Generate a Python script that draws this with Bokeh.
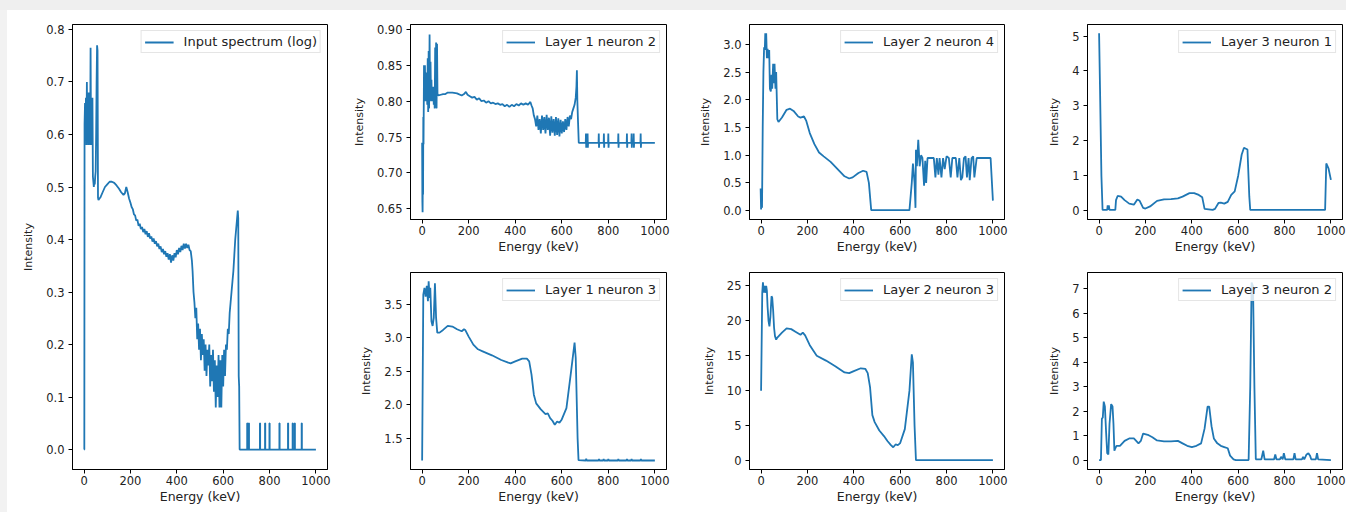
from bokeh.plotting import figure
from bokeh.models import FixedTicker, PrintfTickFormatter, Range1d, Spacer
from bokeh.layouts import row, column
from bokeh.embed import file_html
from bokeh.resources import INLINE

# ---------------- data ----------------
energy_ticks = [0, 200, 400, 600, 800, 1000]

# Input spectrum (log)
in_e = [0, 1, 2, 4, 6, 8, 10, 12, 14, 16, 18, 20, 22, 24, 26, 28, 30, 32, 34, 36, 38, 40,
        42, 44, 46, 48, 50, 52, 54, 56, 58, 60, 62, 66, 70, 80, 90, 100, 110, 120, 130, 140,
        150, 160, 170, 176, 182, 188, 194,
        200, 205, 210, 215, 220, 225, 230, 235, 240, 245, 250, 255, 260, 265, 270, 275, 280,
        285, 290, 295, 300, 305, 310, 315, 320, 325, 330, 335, 340, 345, 350, 355, 360, 365,
        370, 375, 380, 385, 390, 395, 400, 405, 410, 415, 420, 425, 430, 435, 440, 445, 450,
        455, 460, 465,
        468, 472, 476, 480, 484, 488, 492, 496, 500, 504, 508, 512, 516, 520, 524, 528, 532,
        536, 540, 544, 548, 552, 556, 560, 564, 568, 572, 576, 580, 584, 588, 592, 596, 600,
        604, 608, 612, 616, 620, 624, 628, 632, 636, 640, 644, 648, 652, 656, 660, 663, 665,
        667, 669, 671,
        703.5, 703.5, 704.5, 704.5, 710.5, 710.5, 711.5, 711.5, 758.5, 758.5, 759.5, 759.5,
        780.5, 780.5, 781.5, 781.5, 799.5, 799.5, 800.5, 800.5, 842.5, 842.5, 843.5, 843.5,
        879.5, 879.5, 880.5, 880.5, 899.5, 899.5, 900.5, 900.5, 908.5, 908.5, 909.5, 909.5,
        938.5, 938.5, 939.5, 939.5, 1000]
in_v = [0.0, 0.0, 0.62, 0.66, 0.60, 0.67, 0.58, 0.70, 0.59, 0.66, 0.58, 0.68, 0.60, 0.62, 0.58,
        0.765, 0.58, 0.67, 0.60, 0.67, 0.52, 0.51, 0.50, 0.51, 0.505, 0.52, 0.53, 0.60, 0.70,
        0.77, 0.76, 0.48, 0.475, 0.478, 0.48, 0.49, 0.50, 0.505, 0.51, 0.51, 0.508, 0.503,
        0.497, 0.49, 0.485, 0.488, 0.50, 0.49, 0.478,
        0.47, 0.462, 0.458, 0.448, 0.446, 0.436, 0.438, 0.426, 0.43, 0.42, 0.424, 0.414, 0.42,
        0.41, 0.416, 0.405, 0.412, 0.402, 0.406, 0.396, 0.402, 0.392, 0.397, 0.387, 0.392,
        0.382, 0.387, 0.376, 0.382, 0.372, 0.378, 0.367, 0.374, 0.362, 0.372, 0.356, 0.37,
        0.36, 0.374, 0.366, 0.38, 0.372, 0.384, 0.376, 0.388, 0.38, 0.392, 0.383, 0.392,
        0.384, 0.39, 0.38, 0.378, 0.36,
        0.34, 0.30, 0.28, 0.25, 0.27, 0.21, 0.24, 0.19, 0.23, 0.17, 0.22, 0.18, 0.21, 0.15,
        0.20, 0.14, 0.19, 0.16, 0.20, 0.12, 0.18, 0.13, 0.19, 0.11, 0.17, 0.08, 0.16, 0.10,
        0.18, 0.08, 0.17, 0.08, 0.18, 0.12, 0.19, 0.14, 0.20, 0.19, 0.23, 0.22, 0.26, 0.28,
        0.30, 0.32, 0.34, 0.37, 0.40, 0.42, 0.44, 0.455, 0.44, 0.14, 0.12, 0.0,
        0.0, 0.05, 0.05, 0.0, 0.0, 0.05, 0.05, 0.0, 0.0, 0.05, 0.05, 0.0,
        0.0, 0.05, 0.05, 0.0, 0.0, 0.05, 0.05, 0.0, 0.0, 0.05, 0.05, 0.0,
        0.0, 0.05, 0.05, 0.0, 0.0, 0.05, 0.05, 0.0, 0.0, 0.05, 0.05, 0.0,
        0.0, 0.05, 0.05, 0.0, 0.0]

# Layer 1 neuron 2
l1n2_e = [0, 1, 2, 3, 4, 5, 6, 8, 10, 12, 14, 16, 18, 20, 22, 24, 26, 28, 30, 32, 34, 36, 38,
          40, 42, 44, 46, 48, 50, 52, 54, 56, 58, 60, 62, 64, 66, 70, 80, 90, 100, 110, 130,
          150, 170, 180, 188, 195, 205, 215, 225, 235, 245, 255, 265, 275, 285, 295, 305, 315,
          325, 335, 345, 355, 365, 375, 385, 395, 405, 415, 425, 435, 445, 455, 465, 470, 475,
          480, 485, 490, 495, 500, 505, 510, 515, 520, 525, 530, 535, 540, 545, 550, 555, 560,
          565, 570, 575, 580, 585, 590, 595, 600, 605, 610, 615, 620, 625, 630, 635, 640, 645,
          650, 655, 660, 663, 665, 667, 670, 673,
          703, 704, 705, 706, 710, 711, 712, 713, 758, 759, 760, 761, 780, 781, 782, 783,
          799, 800, 801, 802, 842, 843, 844, 845, 879, 880, 881, 882, 899, 900, 901, 902,
          908, 909, 910, 911, 938, 939, 940, 941, 1000]
l1n2_v = [0.742, 0.66, 0.645, 0.70, 0.67, 0.778, 0.74, 0.85, 0.80, 0.85, 0.81, 0.84, 0.80,
          0.83, 0.795, 0.86, 0.785, 0.87, 0.79, 0.893, 0.80, 0.855, 0.81, 0.83, 0.80, 0.81,
          0.80, 0.82, 0.795, 0.81, 0.79, 0.875, 0.80, 0.882, 0.79, 0.88, 0.81, 0.808, 0.809,
          0.81, 0.81, 0.812, 0.812, 0.811, 0.808, 0.81, 0.813, 0.809, 0.807, 0.805, 0.806,
          0.802, 0.804, 0.80, 0.801, 0.798, 0.80, 0.797, 0.798, 0.796, 0.797, 0.795, 0.796,
          0.793, 0.795, 0.792, 0.795, 0.793, 0.796, 0.794, 0.797, 0.795, 0.797, 0.795, 0.799,
          0.794, 0.79, 0.78, 0.775, 0.765, 0.78, 0.76, 0.775, 0.755, 0.78, 0.76, 0.778, 0.755,
          0.781, 0.76, 0.777, 0.752, 0.779, 0.756, 0.775, 0.752, 0.778, 0.753, 0.776, 0.751,
          0.774, 0.755, 0.772, 0.757, 0.775, 0.76, 0.778, 0.765, 0.78, 0.775, 0.785, 0.79,
          0.795, 0.805, 0.82, 0.843, 0.80, 0.77, 0.742,
          0.742, 0.755, 0.735, 0.742, 0.742, 0.755, 0.735, 0.742, 0.742, 0.755, 0.735, 0.742,
          0.742, 0.755, 0.735, 0.742, 0.742, 0.755, 0.735, 0.742, 0.742, 0.755, 0.735, 0.742,
          0.742, 0.755, 0.735, 0.742, 0.742, 0.755, 0.735, 0.742, 0.742, 0.755, 0.735, 0.742,
          0.742, 0.755, 0.735, 0.742, 0.742]

# Layer 1 neuron 3
l1n3_e = [0, 5, 10, 15, 20, 25, 28, 32, 35, 40, 45, 50, 55, 60, 65, 75, 90, 110, 130, 150,
          170, 180, 185, 200, 220, 240, 260, 300, 340, 370, 380, 400, 430, 450, 460, 470, 480,
          490, 510, 530, 540, 550, 560, 570, 580, 590, 600, 620, 640, 655, 660, 668, 672,
          703, 705, 707, 758, 760, 762, 778, 780, 782, 798, 800, 802, 841, 843, 845, 878, 880,
          882, 898, 900, 902, 938, 940, 942, 1000]
l1n3_v = [1.165, 3.65, 3.75, 3.62, 3.78, 3.55, 3.85, 3.60, 3.75, 3.25, 3.18, 3.30, 3.82, 3.30,
          3.08, 3.08, 3.12, 3.18, 3.17, 3.13, 3.10, 3.13, 3.12, 3.02, 2.90, 2.83, 2.80, 2.74,
          2.67, 2.63, 2.62, 2.65, 2.69, 2.69, 2.65, 2.45, 2.15, 2.02, 1.93, 1.86, 1.87, 1.80,
          1.76, 1.70, 1.75, 1.73, 1.78, 1.95, 2.50, 2.93, 2.70, 1.50, 1.17,
          1.165, 1.19, 1.165, 1.165, 1.185, 1.165, 1.165, 1.185, 1.165, 1.165, 1.185, 1.165,
          1.165, 1.185, 1.165, 1.165, 1.185, 1.165, 1.165, 1.185, 1.165, 1.165, 1.185, 1.165,
          1.165]

# Layer 2 neuron 4
l2n4_e = [-2, 0, 2, 4, 7, 10, 13, 16, 18, 20, 22, 25, 28, 31, 35, 38, 42, 45, 48, 52, 55, 58,
          62, 65, 70, 75, 90, 110, 125, 140, 160, 170, 185, 195, 210, 230, 250, 270, 300, 330,
          360, 380, 395, 420, 440, 455, 465, 475, 640, 650, 655, 662, 666, 668, 672, 678, 684,
          690, 696, 703, 708, 712, 718, 745, 752, 758, 765, 770, 778, 785, 792, 800, 810, 818,
          825, 840, 847, 855, 862, 868, 875, 882, 888, 895, 900, 908, 915, 920, 930, 990, 1000]
l2n4_v = [0.40, 0.02, 0.35, 0.05, 1.5, 2.5, 2.95, 2.9, 3.2, 2.95, 3.2, 2.75, 2.92, 2.75, 2.9,
          2.2, 2.15, 2.45, 2.2, 2.65, 2.3, 2.65, 2.2, 2.5, 1.65, 1.6, 1.68, 1.82, 1.84, 1.80,
          1.70, 1.68, 1.70, 1.62, 1.40, 1.20, 1.05, 0.98, 0.88, 0.75, 0.62, 0.58, 0.60, 0.68,
          0.72, 0.70, 0.50, 0.01, 0.01, 0.5, 0.85, 0.5, 0.05, 1.1, 0.8, 1.28, 0.8, 1.0, 0.95,
          0.45, 0.9, 0.5, 0.95, 0.95, 0.6, 0.95, 0.65, 0.95, 0.6, 0.95, 0.75, 0.98, 0.95, 0.6,
          0.95, 0.95, 0.6, 0.95, 0.55, 0.6, 0.95, 0.98, 0.6, 0.95, 0.55, 0.95, 0.98, 0.6, 0.95,
          0.95, 0.18]

# Layer 2 neuron 3
l2n3_e = [0, 5, 8, 12, 15, 18, 22, 25, 28, 32, 36, 40, 45, 48, 52, 56, 60, 65, 70, 90, 110,
          130, 150, 170, 180, 190, 210, 240, 280, 320, 360, 380, 400, 430, 450, 460, 470, 480,
          490, 510, 530, 545, 560, 570, 580, 590, 600, 620, 640, 650, 655, 662, 668, 1000]
l2n3_v = [10.0, 24.0, 25.5, 24.0, 25.0, 24.0, 25.0, 24.3, 22.0, 20.0, 19.2, 20.5, 23.5, 23.3,
          21.5, 19.0, 17.8, 17.3, 17.6, 18.3, 18.9, 18.8, 18.4, 18.0, 18.3, 17.9, 16.5, 15.0,
          14.3, 13.5, 12.6, 12.5, 12.8, 13.2, 13.1, 12.5, 10.5, 6.5, 5.5, 4.3, 3.5, 2.8, 2.2,
          1.9, 2.3, 2.2, 2.5, 4.5, 10.0, 15.2, 14.0, 5.0, 0.05, 0.05]

# Layer 3 neuron 1
l3n1_e = [0, 4, 10, 15, 35, 37, 40, 42, 45, 70, 73, 80, 95, 110, 130, 150, 165, 175, 190, 200,
          220, 250, 280, 310, 340, 360, 390, 410, 430, 445, 455, 490, 500, 515, 525, 540, 555,
          570, 585, 600, 615, 625, 640, 648, 652, 975, 980, 990, 1000]
l3n1_v = [5.08, 3.5, 1.0, 0.02, 0.02, 0.15, 0.02, 0.15, 0.02, 0.02, 0.30, 0.42, 0.40, 0.30,
          0.20, 0.17, 0.32, 0.28, 0.08, 0.06, 0.12, 0.28, 0.32, 0.33, 0.35, 0.40, 0.50, 0.50,
          0.45, 0.38, 0.05, 0.02, 0.05, 0.22, 0.23, 0.20, 0.25, 0.45, 0.55, 1.0, 1.6, 1.8,
          1.75, 0.4, 0.02, 0.02, 1.35, 1.2, 0.88]

# Layer 3 neuron 2
l3n2_e = [0, 8, 12, 16, 20, 25, 30, 35, 40, 45, 52, 58, 62, 66, 70, 75, 90, 110, 130, 150, 170,
          180, 190, 210, 230, 250, 280, 310, 340, 360, 380, 400, 420, 440, 455, 468, 475, 485,
          495, 510, 525, 540, 555, 565, 580, 590, 645, 652, 658, 664, 670, 676, 700, 708, 714,
          755, 760, 765, 780, 785, 792, 797, 803, 838, 843, 848, 875, 880, 885, 895, 903, 910,
          915, 935, 940, 945, 1000]
l3n2_v = [0.02, 0.02, 1.7, 1.75, 2.4, 2.2, 1.2, 0.3, 0.25, 1.5, 2.3, 2.2, 1.5, 0.4, 0.5, 0.6,
          0.6, 0.8, 0.9, 0.9, 0.7, 0.8, 1.1, 1.05, 0.95, 0.82, 0.78, 0.78, 0.8, 0.7, 0.6, 0.55,
          0.6, 0.7, 1.3, 2.2, 2.2, 1.4, 0.9, 0.7, 0.6, 0.55, 0.5, 0.2, 0.05, 0.02, 0.02, 3.0,
          7.25, 7.1, 3.0, 0.05, 0.05, 0.4, 0.05, 0.05, 0.25, 0.05, 0.05, 0.15, 0.05, 0.3, 0.05,
          0.05, 0.3, 0.05, 0.05, 0.15, 0.05, 0.25, 0.3, 0.2, 0.05, 0.05, 0.3, 0.05, 0.02]

labels = ["Input spectrum (log)", "Layer 1 neuron 2", "Layer 1 neuron 3", "Layer 2 neuron 4",
          "Layer 2 neuron 3", "Layer 3 neuron 1", "Layer 3 neuron 2"]

# ---------------- styling ----------------
BLUE = "#1f77b4"
TEXT = "#222222"
FONT = "DejaVu Sans"
XR = (-50, 1050)


def make(w, h, bl, br, bt, bb, yr, yticks, yfmt, xs, ys, label):
    p = figure(width=w, height=h, output_backend="svg", toolbar_location=None,
               x_range=Range1d(*XR), y_range=Range1d(*yr),
               min_border_left=bl, min_border_right=br, min_border_top=bt,
               min_border_bottom=bb)
    p.line(xs, ys, line_color=BLUE, line_width=1.8, legend_label=label)
    p.xgrid.visible = False
    p.ygrid.visible = False
    p.background_fill_color = "white"
    p.border_fill_color = "white"
    p.outline_line_color = "black"
    p.outline_line_alpha = 1
    p.outline_line_width = 1
    p.xaxis.ticker = FixedTicker(ticks=energy_ticks)
    p.yaxis.ticker = FixedTicker(ticks=yticks)
    p.yaxis.formatter = PrintfTickFormatter(format=yfmt)
    p.xaxis.axis_label = "Energy (keV)"
    p.yaxis.axis_label = "Intensity"
    for ax in (p.xaxis[0], p.yaxis[0]):
        ax.axis_line_color = "black"
        ax.major_tick_line_color = "black"
        ax.major_tick_in = 0
        ax.major_tick_out = 4
        ax.minor_tick_in = 0
        ax.minor_tick_out = 0
        ax.major_label_text_font = FONT
        ax.major_label_text_font_size = "11.5px"
        ax.major_label_text_color = TEXT
        ax.axis_label_text_font = FONT
        ax.axis_label_text_font_style = "normal"
        ax.axis_label_text_color = TEXT
    p.xaxis.major_label_standoff = 2
    p.xaxis.axis_label_standoff = 1
    p.xaxis.axis_label_text_font_size = "12.5px"
    p.yaxis.major_label_standoff = 4
    p.yaxis.axis_label_standoff = 8
    p.yaxis.axis_label_text_font_size = "11px"
    lg = p.legend[0]
    lg.location = "top_right"
    lg.margin = 6
    lg.padding = 3
    lg.spacing = 0
    lg.glyph_width = 29
    lg.glyph_height = 14
    lg.label_height = 14
    lg.label_standoff = 10
    lg.label_text_font = FONT
    lg.label_text_font_size = "13px"
    lg.label_text_color = TEXT
    lg.border_line_color = "#cccccc"
    lg.border_line_width = 1
    lg.background_fill_color = "white"
    lg.background_fill_alpha = 0.8
    return p


p1 = make(333, 502, 65, 13, 14, 43, (-0.038, 0.8095),
          [0.0, 0.1, 0.2, 0.3, 0.4, 0.5, 0.6, 0.7, 0.8], "%.1f", in_e, in_v, labels[0])

p2 = make(339, 246, 70, 13, 14, 34, (0.635, 0.907),
          [0.65, 0.70, 0.75, 0.80, 0.85, 0.90], "%.2f", l1n2_e, l1n2_v, labels[1])
p3 = make(339, 256, 70, 13, 16, 43, (1.03, 3.98),
          [1.5, 2.0, 2.5, 3.0, 3.5], "%.1f", l1n3_e, l1n3_v, labels[2])

p4 = make(339, 246, 70, 14, 14, 34, (-0.16, 3.36),
          [0.0, 0.5, 1.0, 1.5, 2.0, 2.5, 3.0], "%.1f", l2n4_e, l2n4_v, labels[3])
p5 = make(339, 256, 70, 14, 16, 43, (-1.28, 26.9),
          [0, 5, 10, 15, 20, 25], "%d", l2n3_e, l2n3_v, labels[4])

p6 = make(328, 246, 69, 4, 14, 34, (-0.254, 5.33),
          [0, 1, 2, 3, 4, 5], "%d", l3n1_e, l3n1_v, labels[5])
p7 = make(328, 256, 69, 4, 16, 43, (-0.365, 7.66),
          [0, 1, 2, 3, 4, 5, 6, 7], "%d", l3n2_e, l3n2_v, labels[6])

top_band = Spacer(width=1346, height=10, styles={"background-color": "#efefef"})
left_band = Spacer(width=7, height=502, styles={"background-color": "#f2f2f2"})

layout = column(
    top_band,
    row(left_band, p1, column(p2, p3), column(p4, p5), column(p6, p7)),
)

open("out.html", "w").write(file_html(layout, INLINE))
